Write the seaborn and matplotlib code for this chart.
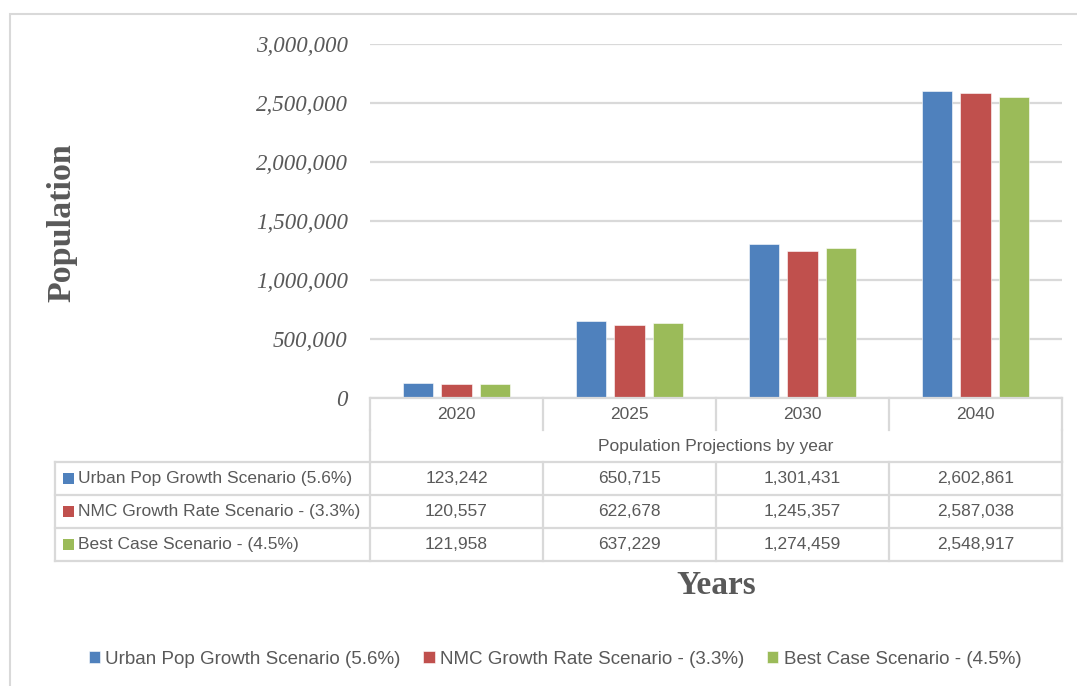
import matplotlib
matplotlib.use("Agg")
import matplotlib.pyplot as plt
import matplotlib.transforms as mtransforms
from matplotlib.lines import Line2D
from matplotlib.patches import Rectangle
from matplotlib.ticker import FuncFormatter
import pandas as pd
import seaborn as sns

# ---- data ----
years = ["2020", "2025", "2030", "2040"]
scenarios = [
    "Urban Pop Growth Scenario (5.6%)",
    "NMC Growth Rate Scenario - (3.3%)",
    "Best Case Scenario - (4.5%)",
]
urban_pop = [123242, 650715, 1301431, 2602861]
nmc_rate = [120557, 622678, 1245357, 2587038]
best_case = [121958, 637229, 1274459, 2548917]
series = [urban_pop, nmc_rate, best_case]
colors = ["#4F81BD", "#C0504D", "#9BBB59"]
table_caption = "Population Projections by year"
y_title = "Population"
x_title = "Years"

df = pd.DataFrame(
    [(y, s, v) for s, vals in zip(scenarios, series) for y, v in zip(years, vals)],
    columns=["Year", "Scenario", "Population"],
)

# ---- figure / layout (pixel based) ----
W, H = 1077, 686
sns.set_theme(style="white")
plt.rcParams["font.family"] = ["Liberation Sans", "DejaVu Sans"]
fig = plt.figure(figsize=(W / 100, H / 100), dpi=100)


def fx(x):
    return x / W


def fy(y):
    return 1 - y / H


TXT = "#595959"
GRID = "#D9D9D9"
LW = 1.6

ax_left, ax_right, ax_top, ax_bottom = 370, 1062, 44, 398
ax = fig.add_axes([fx(ax_left), fy(ax_bottom), fx(ax_right - ax_left), (ax_bottom - ax_top) / H])

sns.barplot(
    data=df, x="Year", y="Population", hue="Scenario", order=years,
    hue_order=scenarios, palette=colors, saturation=1, width=0.667, gap=0.21,
    edgecolor="#FFFFFF", linewidth=0.4, ax=ax,
)
ax.set_xlim(-0.5, len(years) - 0.5)
ax.set_ylim(0, 3_000_000)
ax.set_yticks(range(0, 3_000_001, 500_000))
ax.yaxis.set_major_formatter(FuncFormatter(lambda v, _: f"{int(v):,}"))
ax.set_xticks([])
ax.set_xlabel("")
ax.set_ylabel("")
for sp in ax.spines.values():
    sp.set_visible(False)
ax.tick_params(axis="y", length=0, pad=16)
for lab in ax.get_yticklabels():
    lab.set_fontfamily(["Liberation Serif", "DejaVu Serif"])
    lab.set_fontstyle("italic")
    lab.set_fontsize(16.5)
    lab.set_color(TXT)
ax.grid(axis="y", color=GRID, linewidth=LW)
ax.set_axisbelow(True)

# ---- data table under the axis ----
bt = mtransforms.blended_transform_factory(ax.transData, fig.transFigure)


def hline(x0, x1, y, tr=fig.transFigure, xpx=True):
    xs = [fx(x0), fx(x1)] if xpx else [x0, x1]
    fig.add_artist(Line2D(xs, [fy(y), fy(y)], transform=tr, color=GRID, lw=LW, solid_capstyle="projecting"))


def vline(x, y0, y1, tr=fig.transFigure, xpx=True):
    xs = [fx(x), fx(x)] if xpx else [x, x]
    fig.add_artist(Line2D(xs, [fy(y0), fy(y1)], transform=tr, color=GRID, lw=LW, solid_capstyle="projecting"))


row_header = (398, 430)
row_caption = (430, 462)
data_rows = [(462, 495), (495, 528), (528, 561)]
left_edge = 55

n = len(years)
# axis line / table top
hline(-0.5, n - 0.5, 398, tr=bt, xpx=False)
# header row dividers
for i in range(n + 1):
    vline(i - 0.5, row_header[0], row_header[1], tr=bt, xpx=False)
# outer verticals through the caption row
vline(-0.5, row_caption[0], row_caption[1], tr=bt, xpx=False)
vline(n - 0.5, row_caption[0], row_caption[1], tr=bt, xpx=False)
# data row grid
for y0, y1 in data_rows:
    hline(left_edge, ax_right, y0)
hline(left_edge, ax_right, data_rows[-1][1])
vline(left_edge, data_rows[0][0], data_rows[-1][1])
for i in range(n + 1):
    vline(i - 0.5, data_rows[0][0], data_rows[-1][1], tr=bt, xpx=False)

table_font = dict(fontsize=12.5, color=TXT, ha="center", va="center")
for i, yr in enumerate(years):
    fig.text(i, fy(sum(row_header) / 2), yr, transform=bt, **table_font)
fig.text((n - 1) / 2, fy(sum(row_caption) / 2), table_caption, transform=bt, **table_font)

for (y0, y1), name, vals, col in zip(data_rows, scenarios, series, colors):
    yc = (y0 + y1) / 2
    fig.add_artist(Rectangle((fx(63), fy(yc + 5)), 11 / W, 11 / H, transform=fig.transFigure,
                             facecolor=col, edgecolor="none"))
    fig.text(fx(78), fy(yc), name, fontsize=12.5, color=TXT, ha="left", va="center")
    for i, v in enumerate(vals):
        fig.text(i, fy(yc), f"{v:,}", transform=bt, **table_font)

# ---- axis titles ----
fig.text(fx(62), fy(223), y_title, rotation=90, ha="center", va="center",
         fontsize=24.5, fontweight="bold", color=TXT, family=["Liberation Serif", "DejaVu Serif"])
fig.text(fx(716), fy(585), x_title, ha="center", va="center",
         fontsize=24, fontweight="bold", color=TXT, family=["Liberation Serif", "DejaVu Serif"])

# ---- legend at the bottom ----
sns.move_legend(
    ax, loc="center", bbox_to_anchor=(fx(555), fy(659)), bbox_transform=fig.transFigure,
    ncol=3, frameon=False, title=None, fontsize=13.5, handlelength=0.6, handleheight=0.6,
    handletextpad=0.3, columnspacing=1.2,
)
for t in ax.get_legend().get_texts():
    t.set_color(TXT)

# ---- chart frame ----
fig.add_artist(Rectangle((fx(10), fy(H + 5)), (W + 5 - 10) / W, (H + 5 - 14) / H,
                         transform=fig.transFigure, fill=False, edgecolor=GRID, lw=1.5))

fig.savefig("out.png", dpi=100, facecolor="white")
